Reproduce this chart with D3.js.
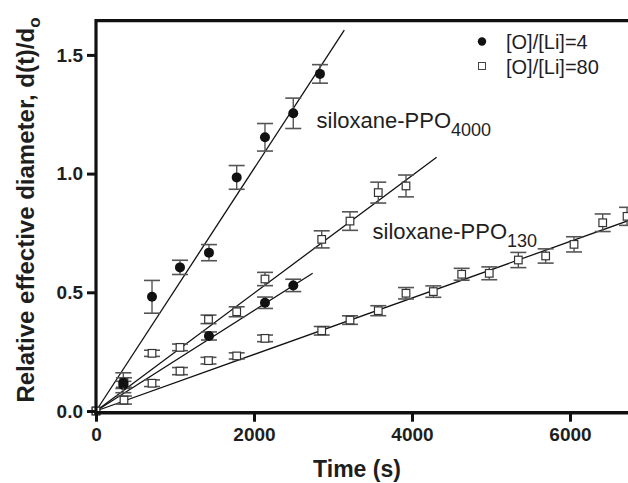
<!DOCTYPE html>
<html><head><meta charset="utf-8">
<script src="https://cdn.jsdelivr.net/npm/d3@7"></script>
<style>
html,body{margin:0;padding:0;background:#fff;}
svg{display:block;font-family:"Liberation Sans",Arial,sans-serif;}
</style></head>
<body><svg id="c" width="628" height="483"></svg>
<script>
// ---- data ----
const xTicks = [0, 2000, 4000, 6000];
const yTicks = [0.0, 0.5, 1.0, 1.5];
const legendLabels = ["[O]/[Li]=4", "[O]/[Li]=80"];

// [O]/[Li]=4 (filled), siloxane-PPO4000
const f4000T = [346, 709, 1063, 1430, 1781, 2139, 2497, 2835];
const f4000V = [0.119, 0.481, 0.605, 0.667, 0.984, 1.153, 1.254, 1.42];
const f4000E = [0.042, 0.069, 0.030, 0.034, 0.050, 0.058, 0.064, 0.039];
// [O]/[Li]=4 (filled), siloxane-PPO130
const f130T = [346, 1430, 2139, 2497];
const f130V = [0.11, 0.316, 0.456, 0.529];
const f130E = [0.015, 0.017, 0.024, 0.026];
// [O]/[Li]=80 (open), siloxane-PPO4000
const o4000T = [0, 354, 709, 1063, 1424, 1781, 2139, 2857, 3215, 3573, 3924];
const o4000V = [0, 0.12, 0.243, 0.268, 0.386, 0.418, 0.556, 0.723, 0.80, 0.92, 0.948];
const o4000E = [0, 0.02, 0.013, 0.014, 0.018, 0.021, 0.028, 0.036, 0.039, 0.044, 0.046];
// [O]/[Li]=80 (open), siloxane-PPO130
const o130T = [0, 354, 709, 1063, 1424, 1781, 2139, 2857, 3215, 3573, 3924, 4270, 4629, 4978, 5346, 5692, 6051, 6414, 6722];
const o130V = [0, 0.046, 0.117, 0.168, 0.212, 0.232, 0.306, 0.338, 0.383, 0.4225, 0.496, 0.503, 0.576, 0.58, 0.636, 0.653, 0.702, 0.793, 0.82];
const o130E = [0, 0.017, 0.014, 0.015, 0.014, 0.013, 0.014, 0.018, 0.018, 0.021, 0.024, 0.024, 0.025, 0.027, 0.032, 0.03, 0.032, 0.037, 0.038];

// linear fits through origin: slope and end time
const fitSlopes = [5.106e-4, 2.115e-4, 2.479e-4, 1.19e-4];
const fitEnds   = [3143, 2743, 4312, 7000];

// ---- layout ----
const svg = d3.select("#c");
const x = d3.scaleLinear().domain([0, 7000]).range([96, 649]);
const y = d3.scaleLinear().domain([0, 1.65]).range([411, 19.3]);
const ink = "#1e1e1e";

// fit lines
const plot = svg.append("g");
fitSlopes.forEach((s, i) => {
  plot.append("line")
    .attr("x1", x(0)).attr("y1", y(0))
    .attr("x2", x(fitEnds[i])).attr("y2", y(s * fitEnds[i]))
    .attr("stroke", "#111").attr("stroke-width", 1.3);
});

function series(T, V, E, filled) {
  const pts = T.map((t, i) => ({t, v: V[i], e: E[i]}));
  const g = plot.append("g");
  const eb = pts.filter(d => d.e > 0);
  const errCol = "#555";
  g.selectAll("line.v").data(eb).enter().append("line")
    .attr("x1", d => x(d.t)).attr("x2", d => x(d.t))
    .attr("y1", d => y(d.v - d.e)).attr("y2", d => y(d.v + d.e))
    .attr("stroke", errCol).attr("stroke-width", 1.4);
  [-1, 1].forEach(sg => {
    g.selectAll("line.c" + sg).data(eb).enter().append("line")
      .attr("x1", d => x(d.t) - 8).attr("x2", d => x(d.t) + 8)
      .attr("y1", d => y(d.v + sg * d.e)).attr("y2", d => y(d.v + sg * d.e))
      .attr("stroke", errCol).attr("stroke-width", 1.6);
  });
  if (filled) {
    g.selectAll("circle").data(pts).enter().append("circle")
      .attr("cx", d => x(d.t)).attr("cy", d => y(d.v)).attr("r", 5)
      .attr("fill", "#111");
  } else {
    g.selectAll("rect").data(pts).enter().append("rect")
      .attr("x", d => x(d.t) - 3.8).attr("y", d => y(d.v) - 3.8)
      .attr("width", 7.6).attr("height", 7.6)
      .attr("fill", "#fff").attr("stroke", "#333").attr("stroke-width", 1.2);
  }
}
series(o130T, o130V, o130E, false);
series(o4000T, o4000V, o4000E, false);
series(f130T, f130V, f130E, true);
series(f4000T, f4000V, f4000E, true);

// frame
svg.append("line").attr("x1", 96).attr("x2", 628).attr("y1", 20.7).attr("y2", 20.7)
  .attr("stroke", "#111").attr("stroke-width", 3.2);
svg.append("line").attr("x1", 96).attr("x2", 96).attr("y1", 19).attr("y2", 414.5)
  .attr("stroke", "#111").attr("stroke-width", 3.2);
svg.append("line").attr("x1", 94.4).attr("x2", 628).attr("y1", 412.7).attr("y2", 412.7)
  .attr("stroke", "#111").attr("stroke-width", 3.6);

// x axis
const xa = svg.append("g").attr("transform", "translate(0,412.7)")
  .call(d3.axisBottom(x).tickValues(xTicks).tickSize(9).tickPadding(6).tickFormat(d3.format("d")));
xa.select(".domain").remove();
xa.selectAll(".tick line").attr("stroke", "#111").attr("stroke-width", 3);
xa.selectAll(".tick text").attr("fill", ink).attr("font-size", 19).attr("font-weight", "bold")
  .attr("font-family", "Liberation Sans, Arial, sans-serif");

// y axis
const ya = svg.append("g").attr("transform", "translate(96,0)")
  .call(d3.axisLeft(y).tickValues(yTicks).tickSize(9).tickPadding(4).tickFormat(d3.format(".1f")));
ya.select(".domain").remove();
ya.selectAll(".tick line").attr("stroke", "#111").attr("stroke-width", 3);
ya.selectAll(".tick text").attr("fill", ink).attr("font-size", 19).attr("font-weight", "bold")
  .attr("font-family", "Liberation Sans, Arial, sans-serif");

// axis titles
svg.append("text").attr("x", 357).attr("y", 477).attr("text-anchor", "middle")
  .attr("font-size", 23).attr("font-weight", "bold").attr("fill", ink).text("Time (s)");
const yt = svg.append("text").attr("transform", "translate(34,210) rotate(-90)")
  .attr("text-anchor", "middle").attr("font-size", 24).attr("font-weight", "bold").attr("fill", ink);
yt.append("tspan").text("Relative effective diameter, d(t)/d");
yt.append("tspan").attr("dy", 6).attr("font-size", 17).text("o");

// legend
svg.append("circle").attr("cx", 482).attr("cy", 41.5).attr("r", 4.2).attr("fill", "#111");
svg.append("rect").attr("x", 478.5).attr("y", 62.5).attr("width", 7).attr("height", 7)
  .attr("fill", "#fff").attr("stroke", "#444").attr("stroke-width", 1);
svg.append("text").attr("x", 506).attr("y", 48.5).attr("font-size", 20).attr("fill", ink).text(legendLabels[0]);
svg.append("text").attr("x", 506).attr("y", 73.5).attr("font-size", 20).attr("fill", ink).text(legendLabels[1]);

// annotations
function annot(xp, yp, main, sub, subSize) {
  const t = svg.append("text").attr("x", xp).attr("y", yp).attr("font-size", 22).attr("fill", ink);
  t.append("tspan").text(main);
  t.append("tspan").attr("dy", 8).attr("font-size", subSize).text(sub);
}
annot(316.5, 128.3, "siloxane-PPO", "4000", 18);
annot(372.5, 239.3, "siloxane-PPO", "130", 18);
</script></body></html>
